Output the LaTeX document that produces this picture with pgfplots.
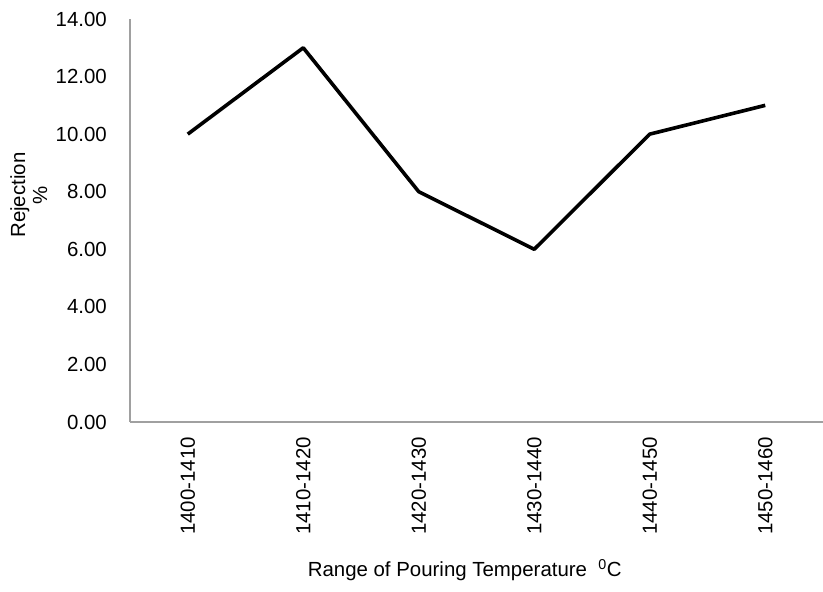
\documentclass[border=0pt]{standalone}
\usepackage{pgfplots}
\pgfplotsset{compat=1.18}
\usepackage{fontspec}
\setmainfont{Liberation Sans}
\definecolor{axisgray}{RGB}{160,160,160}

\begin{document}
\begin{tikzpicture}
\begin{axis}[
    at={(130bp,170bp)}, anchor=south west,
    scale only axis,
    width=693bp, height=403bp,
    xmin=-0.5, xmax=5.5,
    ymin=0, ymax=14,
    axis x line=bottom, axis y line=left,
    axis line style={-, axisgray, line width=1.4bp},
    major tick length=0pt,
    xtick={0,1,2,3,4,5},
    xticklabels={1400-1410,1410-1420,1420-1430,1430-1440,1440-1450,1450-1460},
    ytick={0,2,4,6,8,10,12,14},
    font=\fontsize{20.5}{21}\selectfont,
    /pgf/number format/assume math mode=true,
    yticklabel={\pgfmathprintnumber[fixed,fixed zerofill,precision=2]{\tick}},
    yticklabel style={anchor=east, inner sep=0pt, xshift=-23bp},
    xticklabel style={rotate=90, anchor=east, inner ysep=0pt, inner xsep=15bp},
    xlabel={Range of Pouring Temperature\ \ \textsuperscript{0}C},
    xlabel style={at={(axis description cs:0.483,-0.367)}, anchor=center},
    ylabel={Rejection\\[1bp]\%},
    ylabel style={at={(axis description cs:-0.146,0.563)}, anchor=center, rotate=0, align=center},
    clip=false,
]
\addplot[black, line width=3.6bp, line join=round] coordinates {
    (0,10) (1,13) (2,8) (3,6) (4,10) (5,11)
};
\end{axis}
\pgfresetboundingbox
\path[use as bounding box] (0,0) rectangle (823bp,592bp);
\end{tikzpicture}
\end{document}
